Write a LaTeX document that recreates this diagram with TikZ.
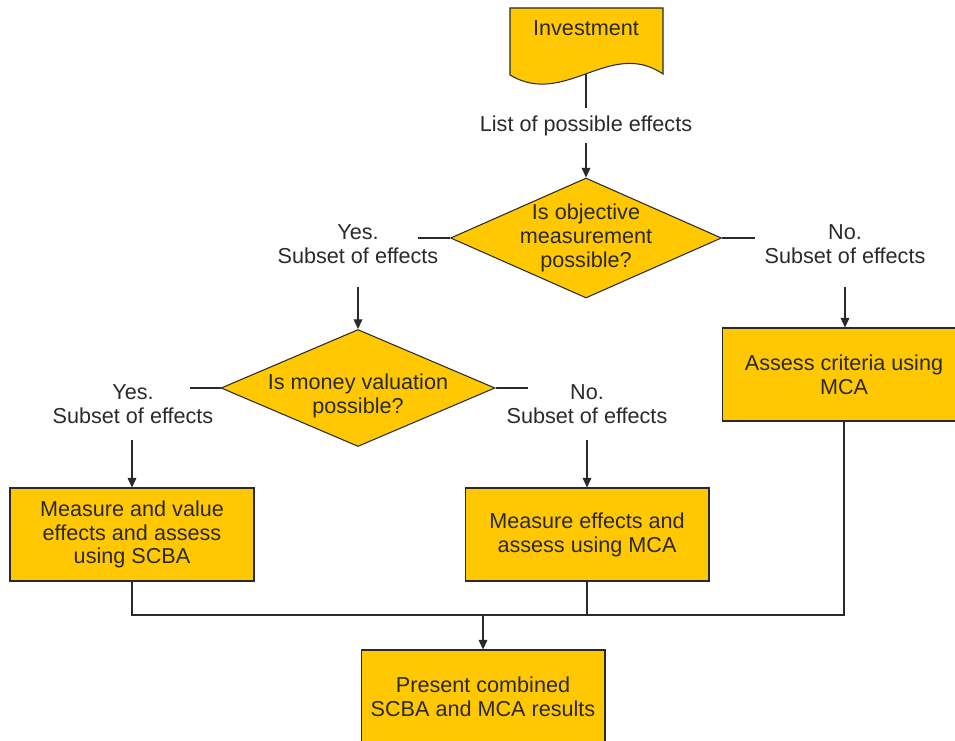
\documentclass[tikz,border=0pt]{standalone}
\usepackage{fontspec}
\setmainfont{Liberation Sans}
\usetikzlibrary{arrows.meta, positioning, shapes.geometric}
\definecolor{boxyellow}{HTML}{FFC800}
\definecolor{inkgray}{HTML}{2A2A2A}
\tikzset{
  every node/.style={font=\fontsize{12.3}{13.6}\selectfont, text=inkgray, align=center},
  procbox/.style={draw=inkgray, fill=boxyellow, line width=0.6pt, minimum width=4.88cm, minimum height=1.86cm},
  decision/.style={diamond, draw=inkgray, fill=boxyellow, line width=0.6pt, inner sep=0pt},
  flow/.style={draw=inkgray, line width=0.6pt},
  flowarrow/.style={flow, -{Triangle[length=5.5pt,width=5pt]}},
}

\begin{document}
\begin{tikzpicture}[x=0.02cm, y=-0.02cm]
    \useasboundingbox (0,0) rectangle (955,740);
    \clip (0,0) rectangle (955,740);
    % input document
    \draw[fill=boxyellow, draw=inkgray, line width=0.6pt]
      (510,75) -- (510,8) -- (663,8) -- (663,74)
      .. controls (610,38) and (565,108) .. (510,75) -- cycle;
    \node (invest) at (586,28) {Investment};
    \coordinate (investout) at (586,74);
    \node (effects) at (586,126) {List of possible effects};
    \coordinate (effectsin) at (586,108);
    \coordinate (effectsout) at (586,143);
    % first decision
    \node[decision, minimum width=5.42cm, minimum height=2.4cm] (objective) at (586,238) {};
    \node (objtext) at (objective.center) {Is objective\\measurement\\possible?};
    \node (yesobj) at (358,244) {Yes.\\Subset of effects};
    \node (noobj) at (845,244) {No.\\Subset of effects};
    \coordinate (yesobjend) at (418,238);
    \coordinate (noobjend) at (755,238);
    \coordinate (yesobjout) at (358,287);
    \coordinate (noobjout) at (845,287);
    % second decision
    \node[decision, minimum width=5.48cm, minimum height=2.34cm] (money) at (358,388) {};
    \node (moneytext) at (358,396) {Is money valuation\\possible?};
    \node (yesmoney) at (133,404) {Yes.\\Subset of effects};
    \node (nomoney) at (587,404) {No.\\Subset of effects};
    \coordinate (yesmoneyend) at (190,388);
    \coordinate (nomoneyend) at (528,388);
    \coordinate (yesmoneyout) at (132,440);
    \coordinate (nomoneyout) at (587,440);
    % assessments
    \node[procbox] (mcaright) at (844,374.5) {Assess criteria using\\MCA};
    \node[procbox] (scba) at (132,534.5) {Measure and value\\effects and assess\\using SCBA};
    \node[procbox] (mcamid) at (587,534.5) {Measure effects and\\assess using MCA};
    \node[procbox] (present) at (483,696.5) {Present combined\\SCBA and MCA results};
    \coordinate (join) at (483,615);
    % connectors
    \draw[flow] (investout) -- (effectsin);
    \draw[flowarrow] (effectsout) -- (objective.north);
    \draw[flow] (objective.west) -- (yesobjend);
    \draw[flow] (objective.east) -- (noobjend);
    \draw[flowarrow] (yesobjout) -- (money.north);
    \draw[flowarrow] (noobjout) -- (noobjout |- mcaright.north);
    \draw[flow] (money.west) -- (yesmoneyend);
    \draw[flow] (money.east) -- (nomoneyend);
    \draw[flowarrow] (yesmoneyout) -- (scba.north);
    \draw[flowarrow] (nomoneyout) -- (mcamid.north);
    \draw[flow] (scba.south) -- (scba.south |- join) -- (mcaright.south |- join) -- (mcaright.south);
    \draw[flow] (mcamid.south) -- (mcamid.south |- join);
    \draw[flowarrow] (join) -- (present.north);
\end{tikzpicture}
\end{document}
